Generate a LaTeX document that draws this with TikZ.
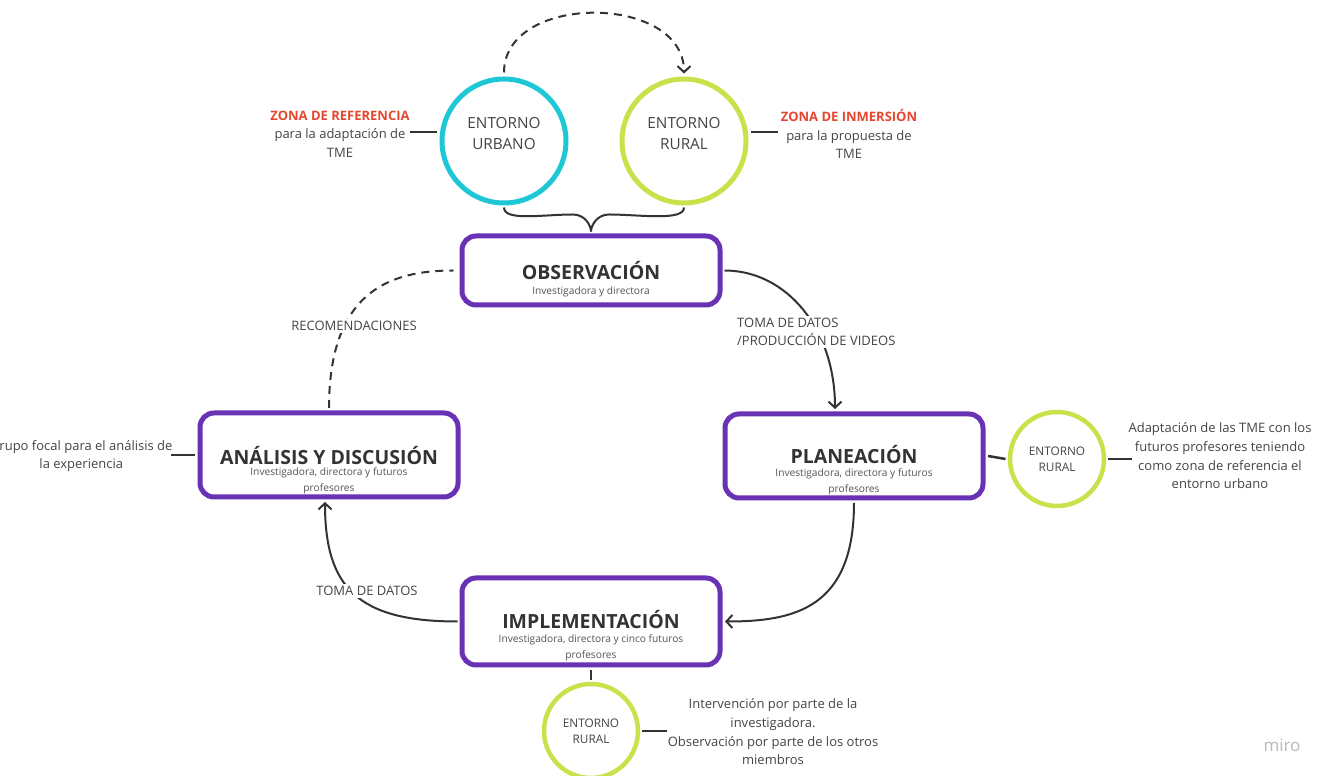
\documentclass[tikz,border=0pt]{standalone}
\usepackage{fontspec}
\setmainfont{Open Sans}
\usetikzlibrary{arrows.meta,calc}
\definecolor{purp}{HTML}{6931B4}
\definecolor{cyanc}{HTML}{1DC7D6}
\definecolor{limec}{HTML}{C9E24B}
\definecolor{zred}{HTML}{E5472E}
\definecolor{dark}{HTML}{333333}
\definecolor{txt}{HTML}{444444}
\definecolor{soft}{HTML}{555555}
\begin{document}
\begin{tikzpicture}[x=1pt,y=1pt,
  box/.style={draw=purp,line width=5pt,rounded corners=14pt,minimum width=258pt,fill=white},
  bigc/.style={circle,line width=5pt,minimum size=124pt,fill=white},
  smallc/.style={circle,draw=limec,line width=4.5pt,minimum size=94pt,fill=white,text=txt,align=center,
     font=\fontsize{11.8}{16}\selectfont},
  ttl/.style={text=dark,font=\fontsize{19.5}{22}\selectfont\bfseries},
  sub/.style={text=soft,align=center,font=\fontsize{10.2}{15.5}\selectfont},
  ctext/.style={text=txt,align=center,font=\fontsize{15.3}{21}\selectfont},
  side/.style={text=txt,align=center,font=\fontsize{13}{18.7}\selectfont},
  lab/.style={text=txt,fill=white,inner sep=2pt,font=\fontsize{13}{18}\selectfont},
  conn/.style={draw=dark,line width=2pt},
  tick/.style={draw=dark,line width=2.5pt},
  arr/.style={conn,-{Straight Barb[length=6pt,width=13pt]}}
]
\useasboundingbox (0,0) rectangle (1326,776);
\clip (0,0) rectangle (1326,776);

% top circles
\node[bigc,draw=cyanc] (urb) at (504,635) {};
\node[bigc,draw=limec] (rur) at (684,635) {};
\node[ctext] (urbT) at (504,642.5) {ENTORNO\\URBANO};
\node[ctext] (rurT) at (684,642.5) {ENTORNO\\RURAL};

% dashed arc
\draw[conn,dashed,dash pattern=on 8pt off 6pt,-{Straight Barb[length=6pt,width=13pt]}]
  ($(urb.north)+(0,4)$) .. controls +(0,80) and +(0,80) .. ($(rur.north)+(0,3)$);

% side labels top
\node[side] (zr) at (340,642) {{\color{zred}\bfseries ZONA DE REFERENCIA}\\para la adaptación de\\TME};
\node[side] (zi) at (849,642) {{\color{zred}\bfseries ZONA DE INMERSIÓN}\\para la propuesta de\\TME};
\draw[tick] ($(urb.west)+(-2.5,9)$) -- ++(-27,0);
\draw[tick] ($(rur.east)+(2.5,9)$) -- ++(27,0);

% boxes
\node[box,minimum height=69pt] (obs) at (591,505.5) {};
\node[ttl] (obsT) at (591,505) {OBSERVACIÓN};
\node[sub] (obsS) at (591,484) {Investigadora y directora};

\node[box,minimum height=84pt] (ana) at (329,321) {};
\node[ttl] (anaT) at (329,320.5) {ANÁLISIS Y DISCUSIÓN};
\node[sub] (anaS) at (329,295) {Investigadora, directora y futuros\\profesores};

\node[box,minimum height=84pt] (pla) at (854,320) {};
\node[ttl] (plaT) at (854,321) {PLANEACIÓN};
\node[sub] (plaS) at (854,294) {Investigadora, directora y futuros\\profesores};

\node[box,minimum height=87pt] (imp) at (591,154.5) {};
\node[ttl] (impT) at (591,156) {IMPLEMENTACIÓN};
\node[sub] (impS) at (591,128) {Investigadora, directora y cinco futuros\\profesores};

% brace from circles to observacion
\coordinate (bj) at ($(obs.north)+(0,2)$);
\draw[conn] ($(urb.south)+(0,-2)$) .. controls +(0,-14) and +(-30,0) .. ($(bj)+(-18,17)$)
   .. controls +(12,0) and +(0,6) .. (bj);
\draw[conn] ($(rur.south)+(0,-2)$) .. controls +(0,-14) and +(30,0) .. ($(bj)+(18,17)$)
   .. controls +(-12,0) and +(0,6) .. (bj);

% cycle connectors
\draw[conn,dashed,dash pattern=on 8pt off 6pt] ($(ana.north)+(0,2.5)$) .. controls +(0,118) and +(-62,0) .. ($(obs.west)+(-6,0)$);
\node[lab] (rec) at (354,450) {RECOMENDACIONES};

\draw[arr] ($(obs.east)+(2,0)$) .. controls +(62,0) and +(0,80) .. ($(pla.north)+(-19,2.5)$);
\node[lab,align=left,anchor=west] (tdp) at (735,444) {TOMA DE DATOS\\/PRODUCCIÓN DE VIDEOS};

\draw[arr] ($(pla.south)+(0,-2.5)$) .. controls +(0,-105) and +(70,0) .. ($(imp.east)+(2.5,0)$);

\draw[arr] ($(imp.west)+(-2,0)$) .. controls +(-100,0) and +(0,-85) .. ($(ana.south)+(-4,-2.5)$);
\node[lab] (td) at (367,185) {TOMA DE DATOS};

% left group text
\node[side,anchor=east] (gf) at (176,320) {Grupo focal para el análisis de\\la experiencia};
\draw[tick] ($(ana.west)+(-2.5,0)$) -- ++(-24,0);

% right small circle
\node[smallc] (rr) at (1057,317) {ENTORNO\\RURAL};
\draw[tick] ($(pla.east)+(2.5,0)$) -- ($(rr.west)+(-2.2,0)$);
\node[side] (rtx) at (1220,320) {Adaptación de las TME con los\\futuros profesores teniendo\\como zona de referencia el\\entorno urbano};
\draw[tick] ($(rr.east)+(2.2,0)$) -- ++(24,0);

% bottom small circle
\node[smallc] (br) at (591,45) {ENTORNO\\RURAL};
\draw[tick] ($(imp.south)+(0,-2.5)$) -- ($(br.north)+(0,2.2)$);
\node[side] (btx) at (773,44) {Intervención por parte de la\\investigadora.\\Observación por parte de los otros\\miembros};
\draw[tick] ($(br.east)+(2.2,0)$) -- ++(25,0);

% watermark
\node[text=black!28,font=\fontsize{17}{19}\selectfont] (miro) at (1282,31) {miro};
\end{tikzpicture}
\end{document}
